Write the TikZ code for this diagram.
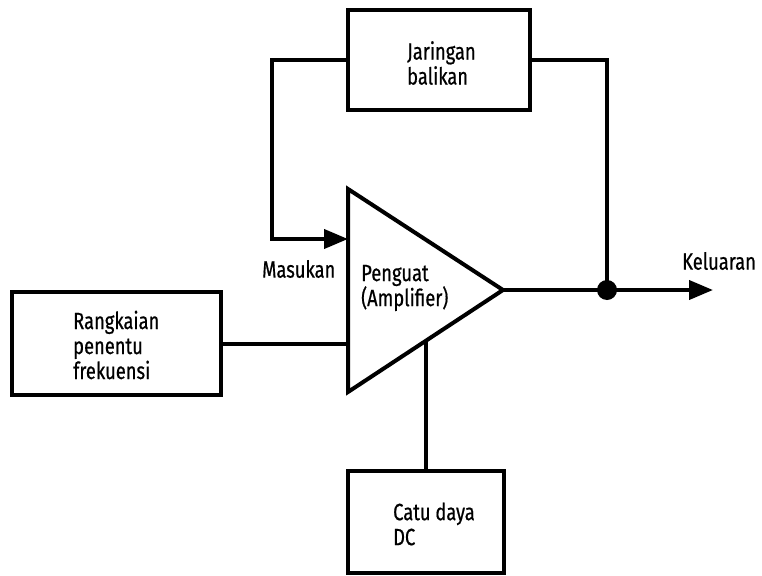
\documentclass[tikz,border=0pt]{standalone}
\usepackage{fontspec}
\setmainfont[FakeStretch=0.78,FakeBold=0.6]{Fira Sans}
\usetikzlibrary{arrows.meta,positioning}

\tikzset{
  blok/.style={draw=black, line width=4pt, rectangle, inner sep=0pt},
  teks/.style={align=left, inner sep=0pt, font=\fontsize{23.5}{25}\selectfont},
  garis/.style={line width=4pt},
  panah/.style={garis, -{Triangle[length=24pt,width=19pt]}}
}

\begin{document}
\begin{tikzpicture}[x=1pt, y=-1pt]
  \useasboundingbox (0,0) rectangle (762,575);

  % blocks
  \node[blok, minimum width=182pt, minimum height=100pt] (jaringan) at (439,60) {};
  \node[teks, anchor=west] (tjaringan) at (407,63) {Jaringan\\balikan};

  \node[blok, minimum width=209pt, minimum height=103pt] (rangkaian) at (116.5,343.5) {};
  \node[teks, anchor=west] (trangkaian) at (73,345) {Rangkaian\\penentu\\frekuensi};

  \node[blok, minimum width=156pt, minimum height=102pt] (catu) at (426,522) {};
  \node[teks, anchor=west] (tcatu) at (393,524) {Catu daya\\DC};

  % amplifier
  \coordinate (atas) at (348,189);
  \coordinate (bawah) at (348,392);
  \coordinate (ujung) at (503,290);
  \draw[garis, line join=miter] (atas) -- (ujung) -- (bawah) -- cycle;
  \node[teks, anchor=west] (penguat) at (361,288) {Penguat\\(Amplifier)};

  % connectors
  \coordinate (masuk) at (348,239);
  \coordinate (belok) at (272,239);
  \coordinate (titik) at (607,290);
  \coordinate (keluar) at (713,290);
  \coordinate (catuatas) at (426,341);

  \draw[panah] (jaringan.west) -| (belok) -- (masuk);
  \draw[garis] (jaringan.east) -| (titik);
  \draw[panah] (ujung) -- (keluar);
  \draw[garis] (rangkaian.east) -- (rangkaian.east -| atas);
  \draw[garis] (catu.north) -- (catuatas);
  \fill (titik) circle (10pt);

  % labels
  \node[teks, anchor=west] (masukan) at (262,269) {Masukan};
  \node[teks, anchor=west] (keluaran) at (682,261) {Keluaran};
\end{tikzpicture}
\end{document}
